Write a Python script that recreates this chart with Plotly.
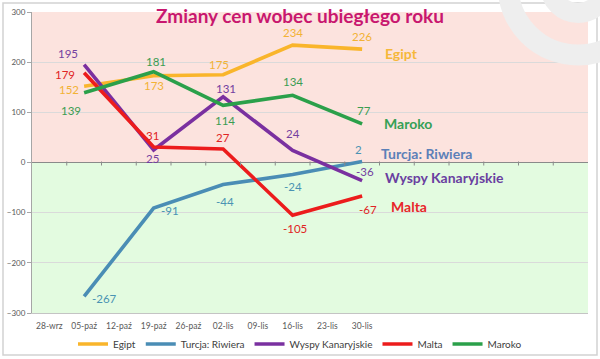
import plotly.graph_objects as go

# ---------------- data ----------------
categories = ["28-wrz", "05-paź", "12-paź", "19-paź", "26-paź",
              "02-lis", "09-lis", "16-lis", "23-lis", "30-lis"]
dates = ["05-paź", "19-paź", "02-lis", "16-lis", "30-lis"]

egipt = [152, 173, 175, 234, 226]
turcja = [-267, -91, -44, -24, 2]
wyspy = [195, 25, 131, 24, -36]
malta = [179, 31, 27, -105, -67]
maroko = [139, 181, 114, 134, 77]

y_ticks = [-300, -200, -100, 0, 100, 200, 300]
title_text = "Zmiany cen wobec ubiegłego roku"

# ---------------- styles ----------------
n_slots = 16
FONT = "Lato"
W, H = 600, 359
ML, MR, MT, MB = 32, 12, 12, 46
series = [
    dict(name="Egipt", values=egipt, color="#f9b52b", label_color="#f2b235",
         end_color="#f5b83a",
         shifts=[(-15, -3), (0, -10), (-4, 10), (0, 13), (0, 13)],
         end_shift=(21, -4)),
    dict(name="Turcja: Riwiera", values=turcja, color="#4a8db5", label_color="#4a93b3",
         end_color="#5c80b8",
         shifts=[(20, -2), (16, -2), (2, -17), (0, -12), (-4, 12)],
         end_shift=(17, 8)),
    dict(name="Wyspy Kanaryjskie", values=wyspy, color="#7a30a0", label_color="#7340a0",
         end_color="#6a3fa0",
         shifts=[(-16, 11), (-1, -9), (3, 8), (0, 17), (3, 9)],
         end_shift=(21, 3)),
    dict(name="Malta", values=malta, color="#ec1c1c", label_color="#e02424",
         end_color="#e8262a",
         shifts=[(-19, -2), (-1, 11), (0, 11), (2, -13), (6, -13)],
         end_shift=(27, -10)),
    dict(name="Maroko", values=maroko, color="#2ba04a", label_color="#3a9d52",
         end_color="#36a055",
         shifts=[(-13, -18), (2, 10), (2, -15), (0, 14), (2, 13)],
         end_shift=(20, 0)),
]

xs = [categories.index(d) for d in dates]

fig = go.Figure()
annotations = []
for s in series:
    fig.add_trace(go.Scatter(
        x=xs, y=s["values"], mode="lines", name=s["name"],
        line=dict(color=s["color"], width=3.6),
        hoverinfo="skip",
    ))
    for xi, v, (dx, dy) in zip(xs, s["values"], s["shifts"]):
        annotations.append(dict(
            x=xi, y=v, xref="x", yref="y", text=str(v), showarrow=False,
            xshift=dx, yshift=dy,
            font=dict(family=FONT, size=11.5, color=s["label_color"]),
        ))
    ex, ey = s["end_shift"]
    annotations.append(dict(
        x=xs[-1], y=s["values"][-1], xref="x", yref="y", text="<b>%s</b>" % s["name"],
        showarrow=False, xanchor="left", xshift=ex, yshift=ey,
        font=dict(family=FONT, size=14, color=s["end_color"]),
    ))

pw, ph = W - ML - MR, H - MT - MB


def px_to_paper(px, py):
    return (px - ML) / pw, (H - MB - py) / ph


tx, ty = px_to_paper(300, 16)
annotations.append(dict(
    x=tx, y=ty, xref="paper", yref="paper",
    text="<b>%s</b>" % title_text,
    showarrow=False, xanchor="center", yanchor="middle",
    font=dict(family=FONT, size=19, color="#c8176f"),
))

shapes = [
    dict(type="rect", xref="x domain", yref="y", x0=0, x1=1, y0=0, y1=y_ticks[-1],
         fillcolor="#fce3de", line=dict(width=0), layer="below"),
    dict(type="rect", xref="x domain", yref="y", x0=0, x1=1, y0=y_ticks[0], y1=0,
         fillcolor="#e3fbe0", line=dict(width=0), layer="below"),
]
# tick marks on the zero line, between categories
for k in range(1, n_slots):
    shapes.append(dict(type="line", xref="x", yref="y", x0=k - 0.5, x1=k - 0.5,
                       ysizemode="pixel", yanchor=0, y0=-3, y1=1,
                       line=dict(color="#8a8a8a", width=1)))

# outer frame
fx0, fy0 = px_to_paper(3, 355)
fx1, fy1 = px_to_paper(597, 3)
shapes.append(dict(type="rect", xref="paper", yref="paper",
                   x0=fx0, x1=fx1, y0=fy0, y1=fy1,
                   line=dict(color="#d2d2d2", width=1.5), fillcolor="rgba(0,0,0,0)",
                   layer="above"))
# decorative arcs (watermark) top right
for r, w in [(70, 21), (28, 20)]:
    x0, y0 = px_to_paper(578 - r, -15 + r)
    x1, y1 = px_to_paper(578 + r, -15 - r)
    shapes.append(dict(type="circle", xref="paper", yref="paper",
                       x0=x0, x1=x1, y0=y1, y1=y0,
                       line=dict(color="#eeeeee", width=w), fillcolor="rgba(0,0,0,0)",
                       layer="above"))

fig.update_layout(
    width=W, height=H, autosize=False,
    margin=dict(l=ML, r=MR, t=MT, b=MB, pad=0, autoexpand=False),
    paper_bgcolor="white", plot_bgcolor="white",
    font=dict(family=FONT, color="#404040"),
    showlegend=True,
    legend=dict(orientation="h", x=300 / W, xanchor="center",
                xref="container", yref="container", y=(H - 344) / H, yanchor="middle",
                font=dict(family=FONT, size=10, color="#404040"),
                itemwidth=30, bgcolor="rgba(0,0,0,0)"),
    xaxis=dict(range=[-0.5, n_slots - 0.5], tickmode="array",
               tickvals=list(range(len(categories))), ticktext=categories,
               showgrid=False, zeroline=False, ticks="", automargin=False,
               showline=True, linecolor="#c4c4c4", linewidth=1,
               tickfont=dict(family=FONT, size=8.5, color="#595959"),
               ticklabelstandoff=5, fixedrange=True),
    yaxis=dict(range=[y_ticks[0], y_ticks[-1]], tickmode="array", tickvals=y_ticks,
               showgrid=True, gridcolor="#dadada", gridwidth=1, automargin=False,
               zeroline=True, zerolinecolor="#8a8a8a", zerolinewidth=1,
               showline=True, linecolor="#a6a6a6", linewidth=1,
               ticks="outside", ticklen=4, tickcolor="#a6a6a6",
               tickfont=dict(family=FONT, size=8, color="#595959"), fixedrange=True),
    annotations=annotations,
    shapes=shapes,
)

fig.write_html("out.html", config={"displayModeBar": False},
               post_script="document.body.style.margin='0';")
